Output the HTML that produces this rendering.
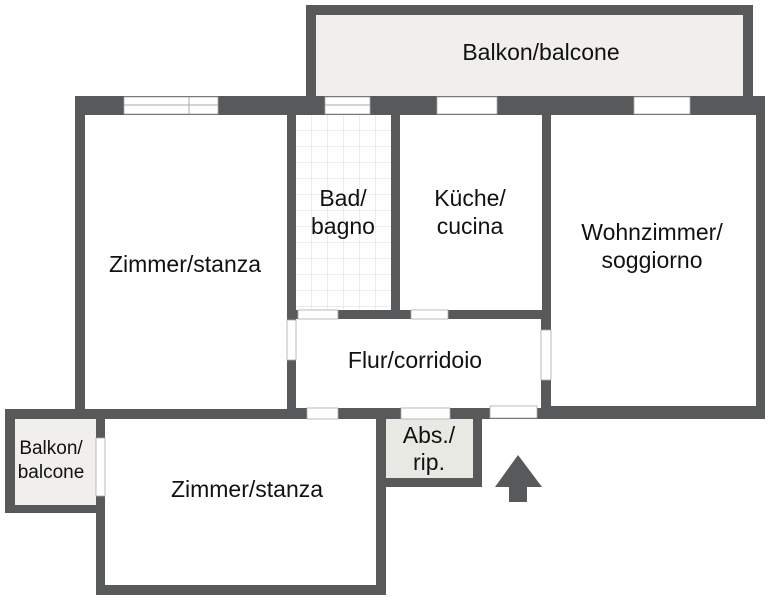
<!DOCTYPE html>
<html><head><style>
html,body{margin:0;padding:0;background:#fff;}
svg{display:block;}
text{font-family:"Liberation Sans",sans-serif;fill:#111;text-anchor:middle;}
</style></head><body>
<svg width="772" height="600" viewBox="0 0 772 600" xmlns="http://www.w3.org/2000/svg">
<defs>
<pattern id="tile" x="296" y="115" width="16" height="16" patternUnits="userSpaceOnUse">
<rect width="16" height="16" fill="#fff"/>
<path d="M16 0V16M0 16H16" stroke="#d8d8d8" stroke-width="1" fill="none"/>
</pattern>
</defs>
<g fill="#58595b">
<rect x="306" y="5" width="447" height="110"/>
<rect x="75" y="96" width="690" height="323"/>
<rect x="5" y="409" width="100" height="104"/>
<rect x="96" y="409" width="290" height="186"/>
<rect x="376" y="409" width="106" height="78"/>
</g>
<rect x="316" y="15" width="427" height="81" fill="#f1efec"/>
<rect x="85" y="115" width="202" height="294" fill="#fff"/>
<rect x="296" y="115" width="95" height="195" fill="url(#tile)"/>
<rect x="400" y="115" width="142" height="195" fill="#fff"/>
<rect x="551" y="115" width="205" height="291" fill="#fff"/>
<rect x="296" y="319" width="245" height="89" fill="#fff"/>
<rect x="15" y="419" width="81" height="86" fill="#f1efec"/>
<rect x="105" y="419" width="271" height="166" fill="#fff"/>
<rect x="386" y="419" width="87" height="59" fill="#e9e9e3"/>
<rect x="482" y="419" width="290" height="181" fill="#fff"/>
<g fill="#fff" stroke="#aaa" stroke-width="0.8">
<rect x="124" y="97" width="94" height="17"/>
<rect x="325" y="97" width="45" height="17"/>
<rect x="437" y="97" width="60" height="17"/>
<rect x="634" y="97" width="56" height="17"/>
<rect x="298" y="310" width="40" height="9"/>
<rect x="411" y="310" width="37" height="9"/>
<rect x="541" y="330" width="10" height="50"/>
<rect x="307" y="408" width="31" height="11"/>
<rect x="401" y="408" width="49" height="11"/>
<rect x="490" y="406" width="47" height="12"/>
<rect x="96" y="438" width="9" height="58"/>
<rect x="287" y="320" width="9" height="40"/>
</g>
<line x1="124" y1="105" x2="218" y2="105" stroke="#aaa"/>
<line x1="189" y1="97" x2="189" y2="114" stroke="#aaa"/>
<line x1="325" y1="105" x2="370" y2="105" stroke="#aaa"/>
<polygon points="518,455 542,487 527,487 527,502 509,502 509,487 495,487" fill="#58595b"/>
<g font-size="23">
<text x="541" y="60">Balkon/balcone</text>
<text x="185" y="272">Zimmer/stanza</text>
<text x="343" y="206">Bad/</text>
<text x="343" y="234">bagno</text>
<text x="470" y="206">Küche/</text>
<text x="470" y="234">cucina</text>
<text x="652" y="240">Wohnzimmer/</text>
<text x="652" y="268">soggiorno</text>
<text x="415" y="368">Flur/corridoio</text>
<text x="247" y="497">Zimmer/stanza</text>
<text x="429" y="443">Abs./</text>
<text x="429" y="470">rip.</text>
</g>
<g font-size="19">
<text x="51" y="454">Balkon/</text>
<text x="51" y="478">balcone</text>
</g>
</svg>
</body></html>
